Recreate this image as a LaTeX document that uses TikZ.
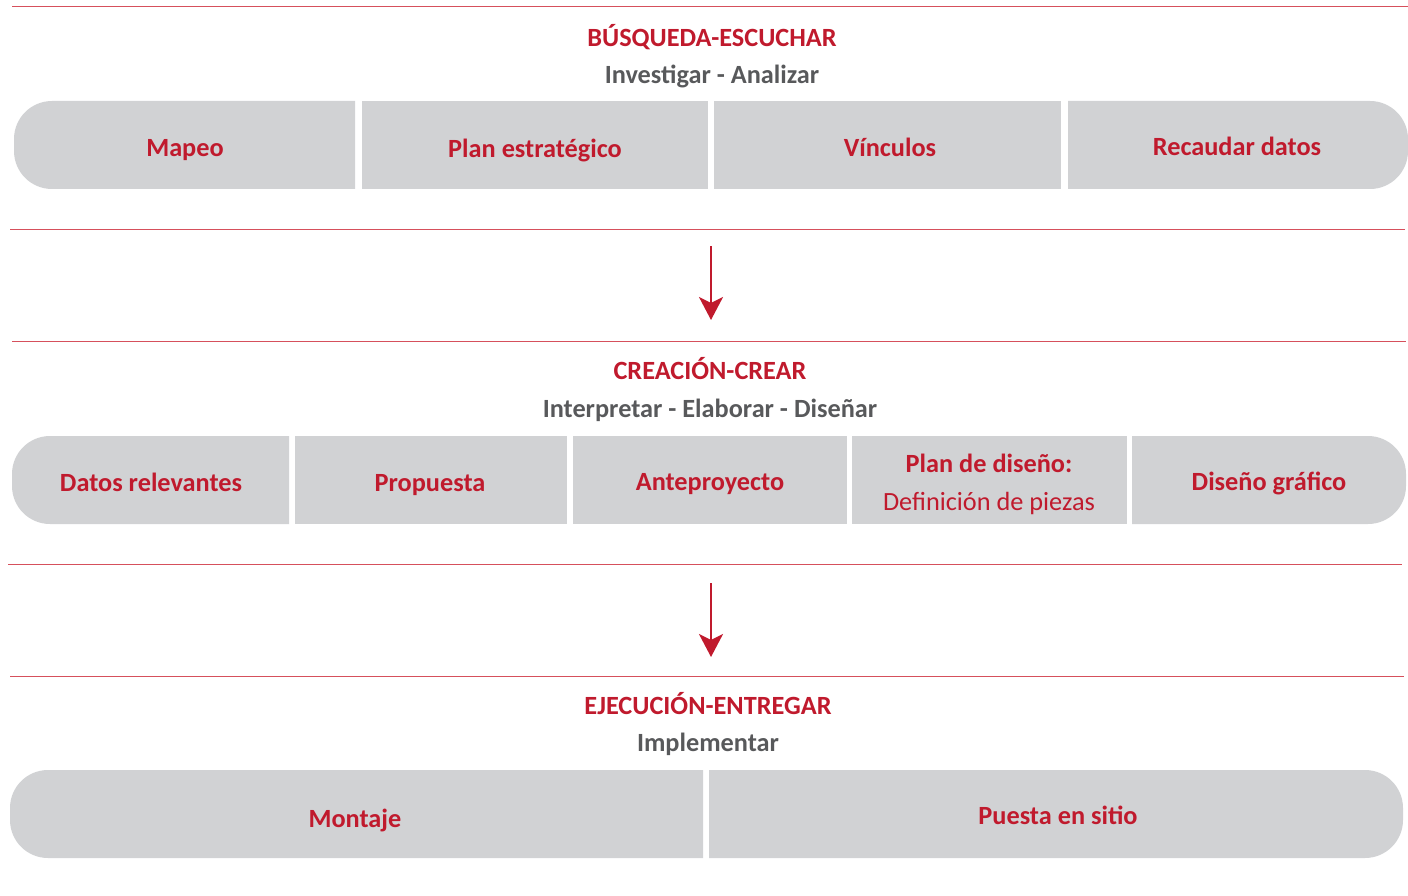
\documentclass[tikz,border=0pt]{standalone}
\usepackage{fontspec}
\setmainfont{Carlito}
\usetikzlibrary{arrows.meta}
\definecolor{dred}{RGB}{192,26,45}
\definecolor{lred}{RGB}{214,80,92}
\definecolor{boxg}{RGB}{209,210,212}
\definecolor{txtg}{RGB}{88,89,91}
\tikzset{
  sepline/.style={draw=lred, line width=1pt},
  boxfill/.style={fill=boxg},
  boxtxt/.style={text=dred, font=\fontsize{26.3}{31}\selectfont\bfseries, inner sep=0pt, anchor=center},
  boxtxtr/.style={text=dred, font=\fontsize{26.3}{31}\selectfont, inner sep=0pt, anchor=center},
  ttl/.style={text=dred, font=\fontsize{26.3}{31}\selectfont\bfseries, inner sep=0pt},
  subttl/.style={text=txtg, font=\fontsize{26.3}{31}\selectfont\bfseries, inner sep=0pt},
  flowarrow/.style={draw=dred, line width=2.6pt, -{Stealth[length=23pt,width=24pt,inset=6pt]}},
  midbox/.style={fill=boxg, inner sep=0pt, minimum height=88pt, anchor=north west}
}
\begin{document}
\begin{tikzpicture}[x=1pt,y=-1pt]
\useasboundingbox (0,0) rectangle (1408,896);
% separator lines
\draw[sepline] (12,7) -- (1408,7);
\draw[sepline] (10,230) -- (1405,230);
\draw[sepline] (12,341) -- (1406,341);
\draw[sepline] (8,564) -- (1402,564);
\draw[sepline] (10,676) -- (1404,676);

% ---- Row 1 ----
\node[ttl] (t1) at (712,37) {BÚSQUEDA-ESCUCHAR};
\node[subttl] (s1) at (712,76) {Investigar - Analizar};
\fill[boxfill] (355,101) [rounded corners=38pt] -- (14,101) -- (14,189) [sharp corners] -- (355,189) -- cycle;
\node[midbox, minimum width=346pt] (b12) at (362,101) {};
\node[midbox, minimum width=347pt] (b13) at (714,101) {};
\fill[boxfill] (1068,189) [rounded corners=38pt] -- (1408,189) -- (1408,101) [sharp corners] -- (1068,101) -- cycle;
\node[boxtxt] (r1a) at (185,150) {Mapeo};
\node[boxtxt] (r1b) at (535,151) {Plan estratégico};
\node[boxtxt] (r1c) at (890,147) {Vínculos};
\node[boxtxt] (r1d) at (1237,146) {Recaudar datos};

% arrow 1
\coordinate (a1s) at (711,246);
\coordinate (a1e) at (711,320);
\draw[flowarrow] (a1s) -- (a1e);

% ---- Row 2 ----
\node[ttl] (t2) at (710,369) {CREACIÓN-CREAR};
\node[subttl] (s2) at (710,410) {Interpretar - Elaborar - Diseñar};
\fill[boxfill] (289,436) [rounded corners=38pt] -- (12,436) -- (12,524) [sharp corners] -- (289,524) -- cycle;
\node[midbox, minimum width=272pt] (b22) at (295,436) {};
\node[midbox, minimum width=274pt] (b23) at (573,436) {};
\node[midbox, minimum width=275pt] (b24) at (852,436) {};
\fill[boxfill] (1132,524) [rounded corners=38pt] -- (1406,524) -- (1406,436) [sharp corners] -- (1132,436) -- cycle;
\node[boxtxt] (r2a) at (151,482) {Datos relevantes};
\node[boxtxt] (r2b) at (430,485) {Propuesta};
\node[boxtxt] (r2c) at (710,484) {Anteproyecto};
\node[boxtxt] (r2d) at (989,463) {Plan de diseño:};
\node[boxtxtr] (r2e) at (989,503) {Definición de piezas};
\node[boxtxt] (r2f) at (1269,483) {Diseño gráfico};

% arrow 2
\coordinate (a2s) at (711,583);
\coordinate (a2e) at (711,657);
\draw[flowarrow] (a2s) -- (a2e);

% ---- Row 3 ----
\node[ttl] (t3) at (708,704) {EJECUCIÓN-ENTREGAR};
\node[subttl] (s3) at (708,744) {Implementar};
\fill[boxfill] (703,770) [rounded corners=38pt] -- (10,770) -- (10,858) [sharp corners] -- (703,858) -- cycle;
\fill[boxfill] (709,858) [rounded corners=38pt] -- (1403,858) -- (1403,770) [sharp corners] -- (709,770) -- cycle;
\node[boxtxt] (r3a) at (355,820) {Montaje};
\node[boxtxt] (r3b) at (1058,815) {Puesta en sitio};
\end{tikzpicture}
\end{document}
